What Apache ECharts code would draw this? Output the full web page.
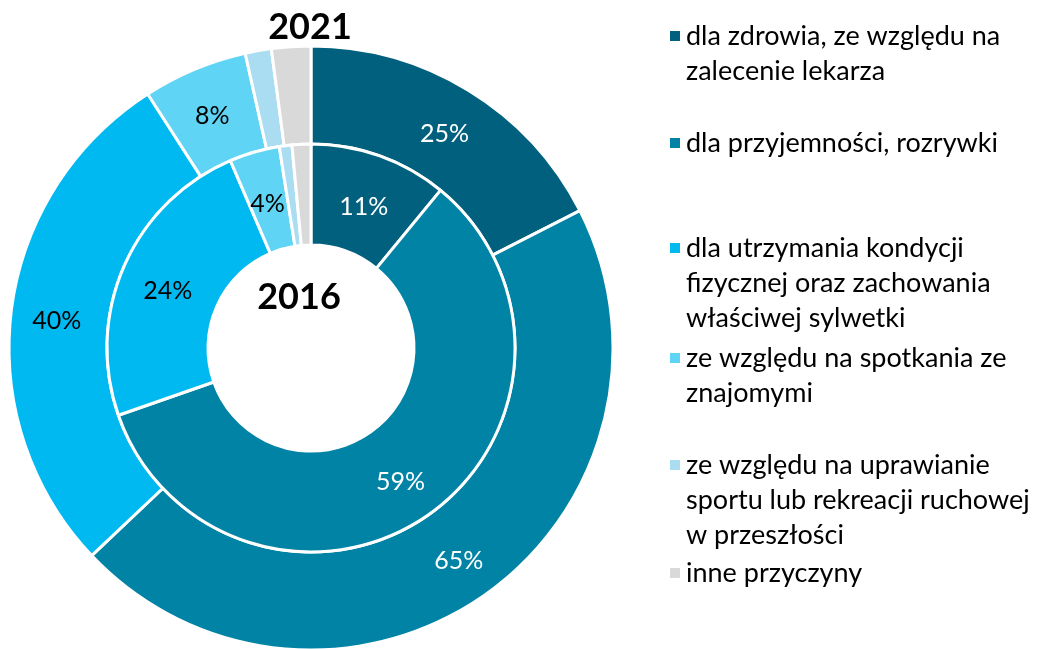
<!DOCTYPE html>
<html>
<head>
<meta charset="utf-8">
<script src="https://cdn.jsdelivr.net/npm/echarts@6/dist/echarts.min.js"></script>
<style>
  html, body { margin: 0; padding: 0; background: #fff; }
  #main { width: 1045px; height: 649px; }
</style>
</head>
<body>
<div id="main"></div>
<script>
// kategorie (legenda)
var categories = [
  'dla zdrowia, ze względu na zalecenie lekarza',
  'dla przyjemności, rozrywki',
  'dla utrzymania kondycji fizycznej oraz zachowania właściwej sylwetki',
  'ze względu na spotkania ze znajomymi',
  'ze względu na uprawianie sportu lub rekreacji ruchowej w przeszłości',
  'inne przyczyny'
];
// tekst legendy z podziałem na linie
var legendLines = [
  ['dla zdrowia, ze względu na', 'zalecenie lekarza'],
  ['dla przyjemności, rozrywki'],
  ['dla utrzymania kondycji', 'fizycznej oraz zachowania', 'właściwej sylwetki'],
  ['ze względu na spotkania ze', 'znajomymi'],
  ['ze względu na uprawianie', 'sportu lub rekreacji ruchowej', 'w przeszłości'],
  ['inne przyczyny']
];
var colors = ['#00607E', '#0083A4', '#00B9F1', '#5FD4F4', '#AADDF2', '#D9D9D9'];

// wartości w %
var values2021 = [25, 65, 40, 8, 2, 3];
var values2016 = [11, 59, 24, 4, 1, 1.5];
// czy pokazać etykietę
var showLabel = [true, true, true, true, false, false];
var labelColors = ['#fff', '#fff', '#000', '#000', '#000', '#000'];

var FONT = 'Lato';
var cx = 311, cy = 348;

var chart = echarts.init(document.getElementById('main'), null, { renderer: 'canvas' });

function buildData(vals) {
  return vals.map(function (v, i) {
    return {
      name: categories[i],
      value: v,
      itemStyle: { color: colors[i] },
      label: { show: showLabel[i], color: labelColors[i] }
    };
  });
}

// osobna legenda dla każdej pozycji (nierówne odstępy jak w oryginale)
// puste linie na początku, żeby znacznik stał przy pierwszej linii tekstu
var iconCenters = [36, 143, 248, 358, 465, 573];
var LH = 35;
var legends = categories.map(function (name, i) {
  var n = legendLines[i].length;
  var pre = new Array(n).join('\n');
  return {
    data: [name],
    left: 668,
    top: iconCenters[i] - (2 * n - 1) * LH / 2,
    orient: 'vertical',
    padding: 0,
    itemWidth: 12,
    itemHeight: 12,
    itemGap: 0,
    icon: 'rect',
    selectedMode: false,
    formatter: function () { return pre + legendLines[i].join('\n'); },
    textStyle: {
      fontFamily: FONT,
      fontSize: 27,
      color: '#000',
      lineHeight: LH
    }
  };
});

var option = {
  backgroundColor: '#fff',
  animation: false,
  legend: legends,
  graphic: [
    {
      type: 'text', x: 310, y: 27,
      style: { text: '2021', font: 'bold 36px ' + FONT, fill: '#000', align: 'center', verticalAlign: 'middle' }
    },
    {
      type: 'text', x: 299, y: 297,
      style: { text: '2016', font: 'bold 36px ' + FONT, fill: '#000', align: 'center', verticalAlign: 'middle' }
    }
  ],
  series: [
    {
      name: '2021',
      type: 'pie',
      center: [cx, cy],
      radius: [204, 302],
      startAngle: 90,
      clockwise: true,
      avoidLabelOverlap: false,
      itemStyle: { borderColor: '#fff', borderWidth: 3 },
      label: { position: 'inside', formatter: '{c}%', fontFamily: FONT, fontSize: 25, offset: [0, 4] },
      labelLine: { show: false },
      emphasis: { disabled: true },
      data: buildData(values2021)
    },
    {
      name: '2016',
      type: 'pie',
      center: [cx, cy],
      radius: [103, 204],
      startAngle: 90,
      clockwise: true,
      avoidLabelOverlap: false,
      itemStyle: { borderColor: '#fff', borderWidth: 3 },
      label: { position: 'inside', formatter: '{c}%', fontFamily: FONT, fontSize: 25, offset: [0, 6] },
      labelLine: { show: false },
      emphasis: { disabled: true },
      data: buildData(values2016)
    }
  ]
};

chart.setOption(option);
</script>
</body>
</html>
